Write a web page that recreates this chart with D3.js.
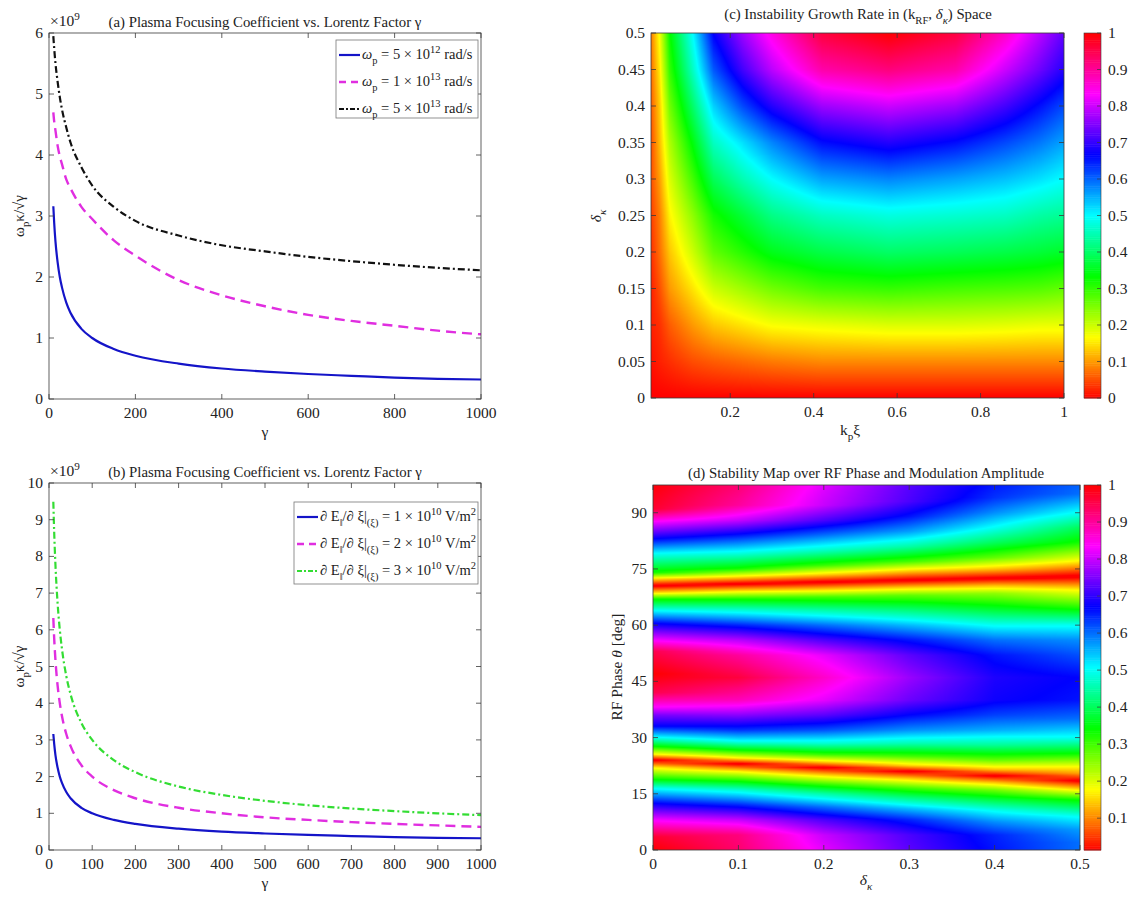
<!DOCTYPE html>
<html><head><meta charset="utf-8">
<script src="https://cdn.jsdelivr.net/npm/d3@7"></script>
<style>
body{margin:0;background:#fff}
svg text{font-family:"Liberation Serif","Times New Roman",serif;fill:#222}
</style></head>
<body><svg id="c" width="1138" height="900"></svg>
<script>
// ---------- DATA ----------
const gammaVals = [10,12,15,20,25,30,40,50,75,100,150,200,300,400,500,600,700,800,900,1000];
// panel (a), units of 1e9
const aBlue    = [3.16,2.89,2.58,2.24,2.0,1.83,1.58,1.41,1.15,1.0,0.82,0.71,0.58,0.5,0.45,0.41,0.38,0.35,0.33,0.32];
const aMagenta = [4.7,4.55,4.4,4.15,3.98,3.85,3.6,3.45,3.15,2.95,2.6,2.35,1.95,1.7,1.52,1.38,1.28,1.2,1.12,1.06];
const aBlack   = [5.95,5.75,5.5,5.2,4.95,4.75,4.45,4.2,3.8,3.5,3.15,2.92,2.68,2.52,2.42,2.33,2.26,2.2,2.15,2.11];
// panel (b), units of 1e9
const bBlue    = [3.16,2.89,2.58,2.24,2.0,1.83,1.58,1.41,1.15,1.0,0.82,0.71,0.58,0.5,0.45,0.41,0.38,0.35,0.33,0.32];
const bMagenta = [6.32,5.77,5.16,4.47,4.0,3.65,3.16,2.83,2.31,2.0,1.63,1.41,1.15,1.0,0.89,0.82,0.76,0.71,0.67,0.63];
const bGreen   = [9.49,8.66,7.75,6.71,6.0,5.48,4.74,4.24,3.46,3.0,2.45,2.12,1.73,1.5,1.34,1.22,1.13,1.06,1.0,0.95];
const aLegend = ["5 × 10", "12", "1 × 10", "13", "5 × 10", "13"];
const bLegend = ["1", "2", "3"];
const ticksA_x = [0,200,400,600,800,1000];
const ticksA_y = [0,1,2,3,4,5,6];
const ticksB_x = [0,100,200,300,400,500,600,700,800,900,1000];
const ticksB_y = [0,1,2,3,4,5,6,7,8,9,10];

// panel (c) grid: x = k_p xi, y = delta_kappa
const cX = [0.01,0.03,0.055,0.11,0.16,0.23,0.3,0.42,0.58,0.74,0.86,0.94,1.0];
const cY = [0,0.05,0.1,0.15,0.2,0.25,0.3,0.35,0.4,0.45,0.5];
const cV = [
 [0,0,0,0,0,0,0,0,0,0,0,0,0],
 [0.01,0.02,0.03,0.05,0.06,0.07,0.08,0.09,0.09,0.09,0.09,0.09,0.09],
 [0.02,0.03,0.06,0.10,0.13,0.15,0.17,0.18,0.19,0.19,0.185,0.18,0.18],
 [0.02,0.05,0.10,0.15,0.20,0.23,0.26,0.29,0.30,0.29,0.285,0.28,0.27],
 [0.03,0.07,0.13,0.20,0.27,0.31,0.35,0.38,0.40,0.39,0.38,0.37,0.36],
 [0.04,0.08,0.16,0.24,0.32,0.37,0.42,0.46,0.48,0.47,0.46,0.44,0.43],
 [0.05,0.10,0.19,0.29,0.39,0.45,0.50,0.56,0.58,0.56,0.54,0.52,0.50],
 [0.05,0.12,0.22,0.34,0.46,0.52,0.58,0.66,0.69,0.66,0.62,0.59,0.56],
 [0.06,0.13,0.26,0.40,0.53,0.62,0.69,0.77,0.80,0.77,0.71,0.66,0.62],
 [0.07,0.15,0.30,0.46,0.61,0.71,0.79,0.89,0.92,0.89,0.80,0.74,0.69],
 [0.08,0.17,0.33,0.50,0.67,0.77,0.85,0.96,1.00,0.96,0.87,0.79,0.73]
];
const cTicksX = [0.2,0.4,0.6,0.8,1];
const cTicksY = [0,0.05,0.1,0.15,0.2,0.25,0.3,0.35,0.4,0.45,0.5];
const cbarTicksC = [0,0.1,0.2,0.3,0.4,0.5,0.6,0.7,0.8,0.9,1];

// panel (d): profiles along theta (deg) at each delta_kappa column
const dX = [0,0.1,0.2,0.3,0.4,0.5];
const dProf0 = [[0,1.0],[3.5,0.97],[8,0.83],[12.5,0.67],[16.5,0.5],[19,0.33],[22,0.17],[24,0],[25.5,0.17],[27.5,0.33],[30,0.5],[33,0.67],[36,0.75],[38,0.83],[42,0.95],[47,1.0],[53,0.95],[56,0.83],[60.5,0.67],[64,0.5],[67,0.33],[68.5,0.17],[70.5,0],[72.5,0.17],[74,0.33],[79,0.5],[83,0.67],[87.5,0.83],[91,0.97],[98,1.0]];
const dProf1 = [[0,0.93],[4,0.92],[8,0.8],[12,0.65],[16,0.48],[18.5,0.33],[21,0.17],[23,0],[24.5,0.17],[26.5,0.33],[29,0.5],[32,0.64],[36,0.76],[40,0.88],[46,0.96],[52,0.9],[56,0.79],[60,0.65],[64,0.48],[67,0.33],[69,0.17],[71,0],[73,0.17],[75,0.33],[79.5,0.5],[84,0.66],[88,0.8],[92,0.9],[98,0.93]];
const dProf2 = [[0,0.82],[4,0.8],[8,0.72],[11.5,0.6],[15,0.45],[17.5,0.31],[20,0.15],[22,0],[23.5,0.15],[25.5,0.31],[28.5,0.48],[32,0.62],[36,0.73],[40,0.82],[46,0.87],[52,0.82],[56,0.72],[60,0.6],[64,0.45],[67.5,0.3],[69.5,0.15],[71.5,0],[73.5,0.15],[76,0.31],[80,0.47],[84,0.6],[88,0.72],[92,0.8],[98,0.82]];
const dProf3 = [[0,0.73],[4,0.72],[8,0.65],[11,0.55],[14,0.42],[16.5,0.3],[19,0.15],[21,0],[22.5,0.15],[25,0.3],[28.5,0.46],[32,0.58],[36,0.67],[40,0.74],[46,0.77],[52,0.73],[56,0.66],[60,0.55],[64,0.42],[68,0.28],[70,0.15],[72,0],[74.5,0.15],[77,0.3],[81,0.45],[85,0.57],[89,0.66],[93,0.72],[98,0.73]];
const dProf4 = [[0,0.66],[4,0.65],[7.5,0.58],[10.5,0.5],[13.5,0.38],[16,0.27],[18,0.14],[19.8,0],[21.5,0.14],[24,0.28],[28,0.44],[32,0.56],[36,0.63],[40,0.68],[46,0.69],[52,0.66],[56,0.6],[60,0.5],[64,0.38],[68.5,0.25],[70.5,0.14],[72.5,0],[75,0.14],[78,0.28],[82,0.4],[86,0.5],[90,0.58],[94,0.64],[98,0.66]];
const dProf5 = [[0,0.6],[2,0.6],[5.5,0.57],[9,0.5],[13.5,0.33],[16,0.17],[18.5,0],[20.5,0.12],[22,0.17],[25.5,0.33],[30,0.5],[35,0.6],[40,0.66],[46,0.67],[52,0.62],[56,0.58],[60,0.5],[64.5,0.33],[69.5,0.17],[73,0],[77,0.17],[82,0.33],[86,0.4],[90,0.5],[95,0.6],[98,0.61]];
const dProfiles = [dProf0,dProf1,dProf2,dProf3,dProf4,dProf5];
const dTicksX = [0,0.1,0.2,0.3,0.4,0.5];
const dTicksY = [0,15,30,45,60,75,90];
const cbarTicksD = [0.1,0.2,0.3,0.4,0.5,0.6,0.7,0.8,0.9,1];

// ---------- DRAW ----------
const svg = d3.select("#c");
const AX = "#3a3a3a", TL = 5, FS = 15.5;

function rich(g, x, y, segs, opt={}) {
  const t = g.append("text").attr("x", x).attr("y", y)
    .attr("font-size", opt.size || FS).attr("text-anchor", opt.anchor || "start");
  if (opt.rotate) t.attr("transform", `rotate(-90,${x},${y})`);
  let prev = 0;
  segs.forEach(s => {
    const off = s.sub ? (opt.subOff||4.5) : s.sup ? -6 : 0;
    const ts = t.append("tspan").attr("dy", off - prev).text(s.t);
    if (s.sub || s.sup) ts.attr("font-size", (opt.size || FS) * 0.72);
    if (s.it) ts.attr("font-style", "italic");
    prev = off;
  });
  return t;
}

function frame(g, x, y, xt, yt, xfmt, yfmt) {
  const [x0,x1] = x.range(), [y1,y0] = y.range();
  const a = g.append("g").attr("stroke", AX).attr("stroke-width", 0.8).attr("fill","none");
  a.append("rect").attr("x", x0).attr("y", y0).attr("width", x1-x0).attr("height", y1-y0);
  xt.forEach(v => {
    a.append("line").attr("x1", x(v)).attr("x2", x(v)).attr("y1", y1).attr("y2", y1-TL);
    a.append("line").attr("x1", x(v)).attr("x2", x(v)).attr("y1", y0).attr("y2", y0+TL);
    g.append("text").attr("x", x(v)).attr("y", y1+19).attr("text-anchor","middle").attr("font-size",FS).text(xfmt(v));
  });
  yt.forEach(v => {
    a.append("line").attr("x1", x0).attr("x2", x0+TL).attr("y1", y(v)).attr("y2", y(v));
    a.append("line").attr("x1", x1).attr("x2", x1-TL).attr("y1", y(v)).attr("y2", y(v));
    g.append("text").attr("x", x0-6).attr("y", y(v)+5).attr("text-anchor","end").attr("font-size",FS).text(yfmt(v));
  });
}

function linePanel(cfg) {
  const g = svg.append("g");
  const x = d3.scaleLinear().domain([0,1000]).range([cfg.x0,cfg.x1]);
  const y = d3.scaleLinear().domain([0,cfg.ymax]).range([cfg.y1,cfg.y0]);
  const cid = "clip"+cfg.id;
  svg.append("clipPath").attr("id",cid).append("rect").attr("x",cfg.x0).attr("y",cfg.y0).attr("width",cfg.x1-cfg.x0).attr("height",cfg.y1-cfg.y0);
  const line = d3.line().x((d,i)=>x(gammaVals[i])).y(d=>y(d)).curve(d3.curveMonotoneX);
  cfg.series.forEach(s => {
    g.append("path").attr("clip-path",`url(#${cid})`).attr("d", line(s.data)).attr("fill","none")
      .attr("stroke", s.color).attr("stroke-width", s.w).attr("stroke-dasharray", s.dash || null);
  });
  frame(g, x, y, cfg.xt, cfg.yt, d=>d, d=>d);
  rich(g, cfg.x0+1, cfg.y0-7, [{t:"×10"},{t:"9",sup:true}], {size:15.5});
  g.append("text").attr("x",265).attr("y",cfg.y0-6).attr("text-anchor","middle").attr("font-size",14.8).text(cfg.title);
  rich(g, 265, cfg.y1+38, [{t:"γ"}], {anchor:"middle", size:15.5});
  rich(g, 24, (cfg.y0+cfg.y1)/2, [{t:"ω"},{t:"p",sub:true},{t:"κ/√γ"}], {anchor:"middle", rotate:true, size:15});
  const L = cfg.legend;
  g.append("rect").attr("x",L.x).attr("y",L.y).attr("width",L.w).attr("height",L.h).attr("fill","#fff").attr("stroke","#777").attr("stroke-width",0.8);
  cfg.series.forEach((s,i) => {
    const ly = L.y + 15 + i*L.dy;
    g.append("line").attr("x1",L.x+3).attr("x2",L.x+24).attr("y1",ly).attr("y2",ly)
      .attr("stroke",s.color).attr("stroke-width",s.w).attr("stroke-dasharray", s.ldash || s.dash || null);
    rich(g, L.x+26, ly+4, s.label, {size:14.5});
  });
}

linePanel({id:"a", x0:49, x1:481, y0:33, y1:399, ymax:6, xt:ticksA_x, yt:ticksA_y,
  title:"(a) Plasma Focusing Coefficient vs. Lorentz Factor γ",
  legend:{x:336, y:40, w:142, h:78, dy:27},
  series:[
    {data:aBlue, color:"#1414c8", w:2.2, label:[{t:"ω",it:true},{t:"p",sub:true},{t:" = "+aLegend[0]},{t:aLegend[1],sup:true},{t:" rad/s"}]},
    {data:aMagenta, color:"#e02ee0", w:2.4, dash:"10,6", ldash:"7,5", label:[{t:"ω",it:true},{t:"p",sub:true},{t:" = "+aLegend[2]},{t:aLegend[3],sup:true},{t:" rad/s"}]},
    {data:aBlack, color:"#111", w:2.2, dash:"7,3,2,3", ldash:"5,2,2,2", label:[{t:"ω",it:true},{t:"p",sub:true},{t:" = "+aLegend[4]},{t:aLegend[5],sup:true},{t:" rad/s"}]}
  ]});

function bLab(n){ return [{t:"∂ E"},{t:"‖",sub:true},{t:"/∂ ξ|"},{t:"(ξ)",sub:true},{t:" = "+n+" × 10"},{t:"10",sup:true},{t:" V/m"},{t:"2",sup:true}]; }
linePanel({id:"b", x0:49, x1:481, y0:483, y1:850, ymax:10, xt:ticksB_x, yt:ticksB_y,
  title:"(b) Plasma Focusing Coefficient vs. Lorentz Factor γ",
  legend:{x:294, y:502, w:184, h:82, dy:27},
  series:[
    {data:bBlue, color:"#1414c8", w:2.2, label:bLab(bLegend[0])},
    {data:bMagenta, color:"#e02ee0", w:2.4, dash:"10,6", ldash:"7,5", label:bLab(bLegend[1])},
    {data:bGreen, color:"#33dd33", w:2.2, dash:"7,3,2,3", ldash:"5,2,2,2", label:bLab(bLegend[2])}
  ]});

// colour LUT (hsv)
const LUT = d3.range(1024).map(i => d3.rgb(d3.hsl(360*i/1023, 1, 0.5)));
function col(t){ t = Math.max(0, Math.min(1, t)); return LUT[Math.round(t*1023)]; }

function heatImage(g, x, y, valueAt, cmin, cmax) {
  const [x0,x1] = x.range(), [y1,y0] = y.range();
  const w = Math.round(x1-x0), h = Math.round(y1-y0);
  const cv = document.createElement("canvas"); cv.width = w; cv.height = h;
  const ctx = cv.getContext("2d"); const img = ctx.createImageData(w,h);
  for (let j=0;j<h;j++){ const yv = y.invert(y0+j+0.5);
    for (let i=0;i<w;i++){ const xv = x.invert(x0+i+0.5);
      const c = col((valueAt(xv,yv)-cmin)/(cmax-cmin)); const k=(j*w+i)*4;
      img.data[k]=c.r; img.data[k+1]=c.g; img.data[k+2]=c.b; img.data[k+3]=255; } }
  ctx.putImageData(img,0,0);
  g.append("image").attr("x",x0).attr("y",y0).attr("width",w).attr("height",h).attr("href",cv.toDataURL());
}
function colorbar(g, bx, by0, by1, cmin, cmax, ticks) {
  const s = d3.scaleLinear().domain([cmin,cmax]).range([by1,by0]);
  const n = 200;
  d3.range(n).forEach(i => {
    const v0 = cmin + (cmax-cmin)*i/n, v1 = cmin + (cmax-cmin)*(i+1)/n;
    g.append("rect").attr("x",bx).attr("width",17).attr("y",s(v1)).attr("height",s(v0)-s(v1)+0.5)
      .attr("fill",col(((v0+v1)/2 - cmin)/(cmax-cmin)));
  });
  g.append("rect").attr("x",bx).attr("width",17).attr("y",by0).attr("height",by1-by0).attr("fill","none").attr("stroke",AX).attr("stroke-width",0.6);
  ticks.forEach(v => {
    g.append("line").attr("x1",bx+17).attr("x2",bx+13).attr("y1",s(v)).attr("y2",s(v)).attr("stroke",AX).attr("stroke-width",0.7);
    g.append("text").attr("x",bx+24).attr("y",s(v)+5).attr("font-size",FS).text(v);
  });
}

function bilinear(xs, ys, V, xv, yv) {
  let i = Math.max(0, Math.min(xs.length-2, d3.bisectRight(xs, xv)-1));
  let j = Math.max(0, Math.min(ys.length-2, d3.bisectRight(ys, yv)-1));
  const tx = Math.max(0, Math.min(1, (xv-xs[i])/(xs[i+1]-xs[i])));
  const ty = Math.max(0, Math.min(1, (yv-ys[j])/(ys[j+1]-ys[j])));
  return (1-ty)*((1-tx)*V[j][i] + tx*V[j][i+1]) + ty*((1-tx)*V[j+1][i] + tx*V[j+1][i+1]);
}

// panel (c)
{
  const g = svg.append("g");
  const x = d3.scaleLinear().domain([0.01,1]).range([651,1064]);
  const y = d3.scaleLinear().domain([0,0.5]).range([398,33]);
  heatImage(g, x, y, (a,b)=>bilinear(cX,cY,cV,a,b), 0, 1);
  frame(g, x, y, cTicksX, cTicksY, d=>d, d=>d);
  rich(g, 858, 19, [{t:"(c) Instability Growth Rate in (k"},{t:"RF",sub:true},{t:", "},{t:"δ",it:true},{t:"κ",sub:true,it:true},{t:") Space"}], {anchor:"middle", size:14.8});
  rich(g, 850, 435, [{t:"k"},{t:"p",sub:true},{t:"ξ"}], {anchor:"middle", size:15.5});
  rich(g, 601, 216, [{t:"δ",it:true},{t:"κ",sub:true,it:true}], {anchor:"middle", rotate:true, size:15.5});
  colorbar(g, 1084, 33, 398, 0, 1, cbarTicksC);
}
// panel (d)
function profVal(p, th){
  if (th <= p[0][0]) return p[0][1];
  for (let k=0;k<p.length-1;k++){ if (th <= p[k+1][0]) { const t=(th-p[k][0])/(p[k+1][0]-p[k][0]); return p[k][1]+t*(p[k+1][1]-p[k][1]); } }
  return p[p.length-1][1];
}
{
  const g = svg.append("g");
  const x = d3.scaleLinear().domain([0,0.5]).range([653,1080]);
  const y = d3.scaleLinear().domain([0,97.4]).range([850,485]);
  const cmin = 0.014;
  heatImage(g, x, y, (a,th)=>{
    const i = Math.max(0, Math.min(dX.length-2, d3.bisectRight(dX,a)-1));
    const t = Math.max(0, Math.min(1,(a-dX[i])/(dX[i+1]-dX[i])));
    return (1-t)*profVal(dProfiles[i],th) + t*profVal(dProfiles[i+1],th);
  }, cmin, 1);
  frame(g, x, y, dTicksX, dTicksY, d=>d, d=>d);
  g.append("text").attr("x",866).attr("y",478).attr("text-anchor","middle").attr("font-size",14.8).text("(d) Stability Map over RF Phase and Modulation Amplitude");
  rich(g, 866, 885, [{t:"δ",it:true},{t:"κ",sub:true,it:true}], {anchor:"middle", size:15.5});
  rich(g, 622, 667, [{t:"RF Phase "},{t:"θ",it:true},{t:" [deg]"}], {anchor:"middle", rotate:true, size:15.5});
  colorbar(g, 1084, 485, 850, cmin, 1, cbarTicksD);
}
</script></body></html>
